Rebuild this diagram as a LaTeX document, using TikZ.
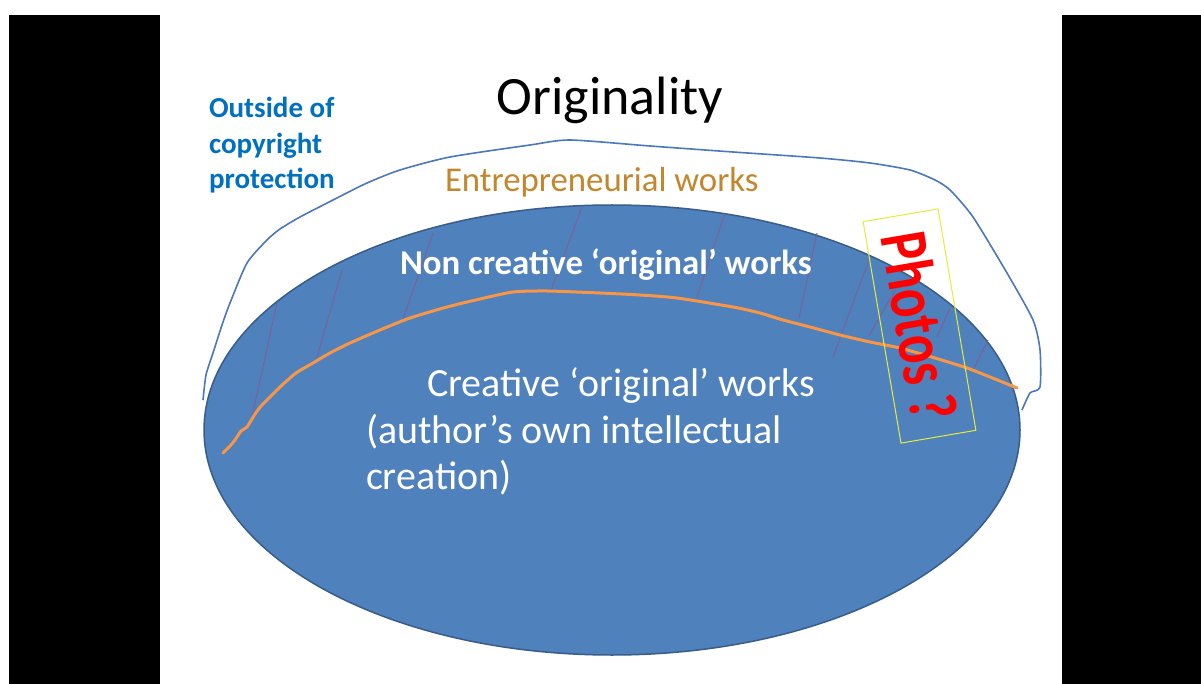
\documentclass[tikz,border=0pt]{standalone}
\usepackage{fontspec}
\setmainfont{Carlito}
\usetikzlibrary{shapes.geometric}
\definecolor{ovalblue}{RGB}{79,129,189}
\definecolor{ovaledge}{RGB}{56,93,138}
\definecolor{outline}{RGB}{74,120,186}
\definecolor{outsideblue}{RGB}{0,112,192}
\definecolor{entre}{RGB}{196,134,44}
\definecolor{orangeline}{RGB}{247,150,70}
\definecolor{hatch}{RGB}{122,98,152}
\definecolor{photobox}{RGB}{230,235,60}
\tikzset{
  lbl/.style={inner sep=0pt, outer sep=0pt},
  hatchline/.style={draw=hatch, line width=1pt},
}
\begin{document}
\begin{tikzpicture}[x=1pt,y=-1pt]
\useasboundingbox (0,0) rectangle (1201,684);
\fill[white] (0,0) rectangle (1201,684);
\fill[black] (9,15) rectangle (160,684);
\fill[black] (1062,15) rectangle (1201,684);
% outside outline
\draw[outline, line width=1.6pt, line join=round]
  plot[smooth, tension=0.4] coordinates {(203,400) (206,375) (213,353) (222,325) (230,303) (247,263) (267,240) (280,229) (300,217) (333,200) (367,183) (400,170) (450,157) (530,145) (570,140) (650,146) (733,152) (820,158) (870,163) (910,170) (935,180) (950,190) (973,217) (1007,273) (1033,320) (1040,350) (1040,387) (1030,393) (1022,410)};
% main oval
\node[ellipse, draw=ovaledge, fill=ovalblue, line width=1.5pt, minimum width=816pt, minimum height=450pt, inner sep=0pt] (oval) at (612,430) {};
% hatch lines
\draw[hatchline] (277,303) -- (252,417);
\draw[hatchline] (342,270) -- (317,357);
\draw[hatchline] (433,233) -- (402,322);
\draw[hatchline] (582,207) -- (550,293);
\draw[hatchline] (725,213) -- (697,297);
\draw[hatchline] (817,233) -- (799,318);
\draw[hatchline] (870,257) -- (833,357);
\draw[hatchline] (895,290) -- (869,336);
\draw[hatchline] (950,308) -- (937,337);
\draw[hatchline] (988,340) -- (973,370);
% orange boundary
\draw[orangeline, line width=3pt, line cap=round, line join=round]
  plot[smooth, tension=0.4] coordinates {(223,453) (230,446) (235,440) (241,431) (247,427) (255,414) (262,405) (270,397) (280,387) (296,373) (313,363) (330,353) (350,343) (380,330) (410,318) (447,307) (480,299) (513,292) (547,291) (600,293) (640,295) (677,298) (733,307) (760,313) (783,320) (810,327) (840,335) (870,342) (900,348) (935,358) (967,368) (995,379) (1017,388)};
% texts
\node[lbl, anchor=base] (title) at (610,115) {\fontsize{54}{60}\selectfont Originality};
\node[lbl, anchor=base west, text=outsideblue, font=\bfseries\fontsize{29}{36}\selectfont] (out1) at (209,118) {Outside of};
\node[lbl, anchor=base west, text=outsideblue, font=\bfseries\fontsize{29}{36}\selectfont] (out2) at (209,154) {copyright};
\node[lbl, anchor=base west, text=outsideblue, font=\bfseries\fontsize{29}{36}\selectfont] (out3) at (209,189) {protection};
\node[lbl, anchor=base west, text=entre, font=\fontsize{34.8}{40}\selectfont] (entre) at (445,192) {Entrepreneurial works};
\node[lbl, anchor=base west, text=white, font=\bfseries\fontsize{34.8}{40}\selectfont] (noncre) at (400,275) {Non creative ‘original’ works};
\node[lbl, anchor=base west, text=white, font=\fontsize{40}{48}\selectfont] (cre1) at (427,396) {Creative ‘original’ works};
\node[lbl, anchor=base west, text=white, font=\fontsize{40}{48}\selectfont] (cre2) at (366,443) {(author’s own intellectual};
\node[lbl, anchor=base west, text=white, font=\fontsize{40}{48}\selectfont] (cre3) at (366,489) {creation)};
% photos box with text
\node[draw=photobox, line width=1pt, rotate=-80.3, xscale=0.78, minimum width=288pt, minimum height=76pt, inner sep=0pt, text=red, font=\bfseries\fontsize{68}{70}\selectfont] (photos) at (919.5,326) {Photos ?};
\end{tikzpicture}
\end{document}
